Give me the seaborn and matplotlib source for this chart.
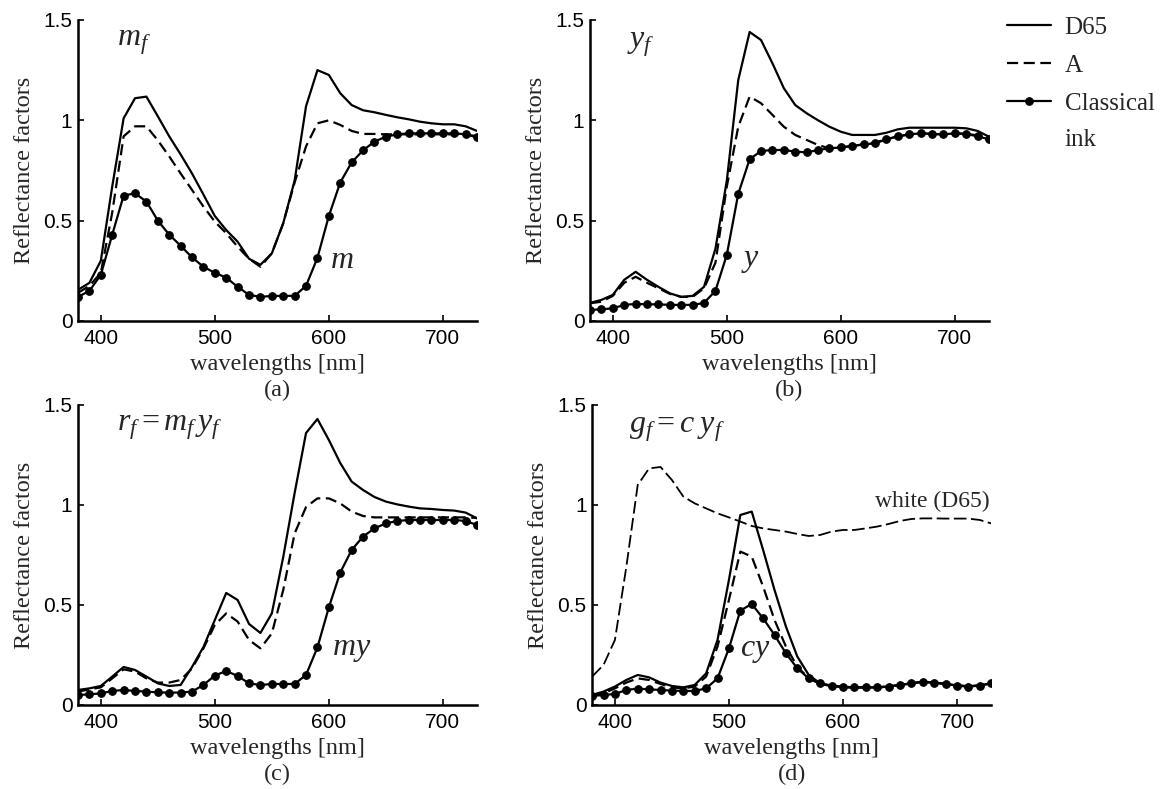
import numpy as np
import pandas as pd
import matplotlib
matplotlib.use('Agg')
import matplotlib.pyplot as plt
import seaborn as sns

# wavelengths, 10 nm steps
wl = np.arange(380, 731, 10)

# (a) magenta
a_d65 = [0.155, 0.19, 0.30, 0.67, 1.01, 1.11, 1.118, 1.02, 0.92, 0.83, 0.735, 0.63, 0.523, 0.453, 0.395, 0.31, 0.28, 0.337,
         0.487, 0.70, 1.07, 1.25, 1.226, 1.135, 1.076, 1.05, 1.04, 1.027, 1.015, 1.005, 0.993, 0.985, 0.98, 0.98, 0.97, 0.947]
a_A = [0.14, 0.175, 0.24, 0.54, 0.92, 0.97, 0.97, 0.90, 0.82, 0.735, 0.653, 0.57, 0.495, 0.437, 0.37, 0.31, 0.27, 0.337,
       0.487, 0.69, 0.87, 0.985, 1.0, 0.977, 0.947, 0.932, 0.932, 0.93, 0.93, 0.93, 0.93, 0.93, 0.93, 0.93, 0.93, 0.92]
a_ink = [0.12, 0.15, 0.23, 0.43, 0.625, 0.636, 0.595, 0.50, 0.43, 0.375, 0.317, 0.27, 0.24, 0.216, 0.17, 0.13, 0.12, 0.125,
         0.125, 0.125, 0.175, 0.315, 0.523, 0.69, 0.79, 0.85, 0.894, 0.918, 0.93, 0.935, 0.935, 0.935, 0.935, 0.935, 0.93, 0.915]

# (b) yellow
b_d65 = [0.09, 0.105, 0.13, 0.205, 0.245, 0.205, 0.17, 0.138, 0.12, 0.125, 0.17, 0.36, 0.70, 1.2, 1.44, 1.40, 1.284, 1.16,
         1.076, 1.035, 1.0, 0.968, 0.943, 0.927, 0.927, 0.927, 0.938, 0.955, 0.963, 0.963, 0.963, 0.963, 0.963, 0.96, 0.947, 0.918]
b_A = [0.088, 0.096, 0.125, 0.19, 0.22, 0.19, 0.163, 0.135, 0.12, 0.12, 0.163, 0.29, 0.67, 0.968, 1.118, 1.085, 1.027, 0.968,
       0.927, 0.902, 0.877, 0.86, 0.865, 0.872, 0.88, 0.89, 0.905, 0.92, 0.93, 0.935, 0.932, 0.93, 0.935, 0.932, 0.925, 0.91]
b_ink = [0.055, 0.058, 0.063, 0.08, 0.085, 0.083, 0.083, 0.08, 0.08, 0.08, 0.09, 0.15, 0.33, 0.633, 0.806, 0.847, 0.852, 0.852,
         0.844, 0.84, 0.852, 0.86, 0.865, 0.872, 0.88, 0.885, 0.905, 0.92, 0.93, 0.935, 0.932, 0.93, 0.935, 0.932, 0.92, 0.905]

# (c) red = magenta x yellow
c_d65 = [0.075, 0.083, 0.095, 0.142, 0.19, 0.175, 0.142, 0.108, 0.095, 0.10, 0.19, 0.29, 0.425, 0.56, 0.525, 0.405, 0.36, 0.458,
         0.74, 1.06, 1.36, 1.43, 1.325, 1.21, 1.117, 1.075, 1.04, 1.017, 1.003, 0.992, 0.983, 0.98, 0.975, 0.972, 0.962, 0.933]
c_A = [0.067, 0.078, 0.088, 0.133, 0.178, 0.167, 0.133, 0.112, 0.112, 0.125, 0.183, 0.283, 0.40, 0.458, 0.417, 0.325, 0.283, 0.358,
       0.575, 0.858, 0.99, 1.033, 1.033, 1.008, 0.967, 0.945, 0.938, 0.938, 0.938, 0.938, 0.938, 0.938, 0.938, 0.938, 0.938, 0.935]
c_ink = [0.05, 0.053, 0.058, 0.07, 0.075, 0.07, 0.067, 0.063, 0.062, 0.062, 0.067, 0.10, 0.147, 0.17, 0.145, 0.108, 0.10, 0.105,
         0.105, 0.105, 0.15, 0.288, 0.488, 0.662, 0.775, 0.842, 0.883, 0.908, 0.92, 0.925, 0.925, 0.925, 0.925, 0.925, 0.92, 0.90]

# (d) green = cyan x yellow
d_d65 = [0.05, 0.067, 0.092, 0.125, 0.15, 0.138, 0.112, 0.095, 0.088, 0.10, 0.158, 0.325, 0.625, 0.95, 0.967, 0.775, 0.575, 0.392,
         0.242, 0.15, 0.108, 0.095, 0.088, 0.087, 0.087, 0.088, 0.092, 0.10, 0.108, 0.115, 0.112, 0.105, 0.098, 0.094, 0.098, 0.108]
d_A = [0.047, 0.058, 0.083, 0.112, 0.133, 0.125, 0.105, 0.088, 0.083, 0.092, 0.142, 0.292, 0.525, 0.767, 0.742, 0.592, 0.425, 0.292,
       0.192, 0.133, 0.105, 0.095, 0.09, 0.088, 0.088, 0.088, 0.092, 0.10, 0.108, 0.115, 0.112, 0.105, 0.097, 0.093, 0.097, 0.108]
d_ink = [0.045, 0.05, 0.055, 0.075, 0.082, 0.078, 0.075, 0.072, 0.07, 0.07, 0.083, 0.133, 0.283, 0.472, 0.505, 0.433, 0.35, 0.258,
         0.183, 0.133, 0.108, 0.097, 0.092, 0.088, 0.088, 0.088, 0.092, 0.10, 0.108, 0.117, 0.112, 0.105, 0.097, 0.092, 0.097, 0.108]
d_white = [0.142, 0.20, 0.325, 0.69, 1.10, 1.183, 1.19, 1.125, 1.042, 1.008, 0.983, 0.958, 0.938, 0.917, 0.895, 0.883, 0.875, 0.867,
           0.855, 0.845, 0.85, 0.867, 0.875, 0.875, 0.883, 0.892, 0.905, 0.92, 0.93, 0.933, 0.933, 0.932, 0.932, 0.932, 0.925, 0.908]

sns.set_style('ticks')
plt.rcParams['font.family'] = ['Liberation Sans', 'DejaVu Sans']
plt.rcParams['mathtext.fontset'] = 'custom'
plt.rcParams['mathtext.it'] = 'Liberation Serif:italic'
plt.rcParams['mathtext.rm'] = 'Liberation Serif'
serif = ['Liberation Serif', 'DejaVu Serif']

fig = plt.figure(figsize=(11.61, 7.89), dpi=100)
pos = {'a': [0.0672, 0.5932, 0.3437, 0.3815], 'b': [0.5082, 0.5932, 0.3437, 0.3815],
       'c': [0.0672, 0.1065, 0.3437, 0.3802], 'd': [0.5100, 0.1065, 0.3437, 0.3802]}

panels = [('a', a_d65, a_A, a_ink, r'$m_f$', (414, 1.375), r'$m$', (601, 0.265)),
          ('b', b_d65, b_A, b_ink, r'$y_f$', (412, 1.365), r'$y$', (512, 0.275)),
          ('c', c_d65, c_A, c_ink, r'$r_f = m_f\,y_f$', (414, 1.37), r'$my$', (603, 0.25)),
          ('d', d_d65, d_A, d_ink, r'$g_f = c\;y_f$', (412, 1.36), r'$cy$', (510, 0.245))]

axes = {}
for key, d65, A, ink, title, tpos, lab, lpos in panels:
    ax = fig.add_axes(pos[key])
    axes[key] = ax
    sns.lineplot(x=wl, y=d65, ax=ax, color='black', lw=1.6, label='D65')
    sns.lineplot(x=wl, y=A, ax=ax, color='black', lw=1.6, linestyle=(0, (5, 2.5)), label='A')
    sns.lineplot(x=wl, y=ink, ax=ax, color='black', lw=1.6, marker='o', markersize=5.5,
                 markeredgecolor='black', label='Classical')
    if key == 'd':
        sns.lineplot(x=wl, y=d_white, ax=ax, color='black', lw=1.3, linestyle=(0, (7, 2.5)))
        ax.text(729, 0.99, 'white (D65)', family=serif, fontsize=17, ha='right', va='baseline')
    ax.get_legend().remove()
    ax.set_xlim(380, 730)
    ax.set_ylim(0, 1.5)
    ax.set_xticks([400, 500, 600, 700])
    ax.set_yticks([0, 0.5, 1, 1.5])
    ax.set_yticklabels(['0', '0.5', '1', '1.5'])
    ax.tick_params(direction='in', length=4, width=1.2, labelsize=15, colors='black')
    ax.tick_params(axis='x', pad=6)
    ax.tick_params(axis='y', pad=4)
    sns.despine(ax=ax)
    for s in ['left', 'bottom']:
        ax.spines[s].set_linewidth(1.8)
        ax.spines[s].set_color('black')
    ax.set_xlabel('wavelengths [nm]', family=serif, fontsize=17.5, labelpad=4)
    ax.set_ylabel('Reflectance factors', family=serif, fontsize=17.5, labelpad=6)
    ax.text(tpos[0], tpos[1], title, fontsize=23, ha='left', va='baseline')
    ax.text(lpos[0], lpos[1], lab, fontsize=23, ha='left', va='baseline')
    ax.text(0.5, -0.232, '(%s)' % key, transform=ax.transAxes, family=serif, fontsize=17.5,
            ha='center', va='center')

handles = axes['a'].get_lines()[:3]
leg = fig.legend(handles, ['D65', 'A', 'Classical'], loc='upper left', bbox_to_anchor=(0.848, 1.008),
                 frameon=False, prop={'family': serif, 'size': 18}, handlelength=1.75, handletextpad=0.55,
                 labelspacing=0.62)

# second line of the "Classical ink" label, placed under the legend text
fig.canvas.draw()
bb = leg.get_texts()[2].get_window_extent()
fig.text(bb.x0 / fig.bbox.width, (bb.y0 - 36 + bb.height / 2) / fig.bbox.height, 'ink',
         family=serif, fontsize=18, ha='left', va='center')

fig.savefig('out.png', dpi=100, facecolor='white')
